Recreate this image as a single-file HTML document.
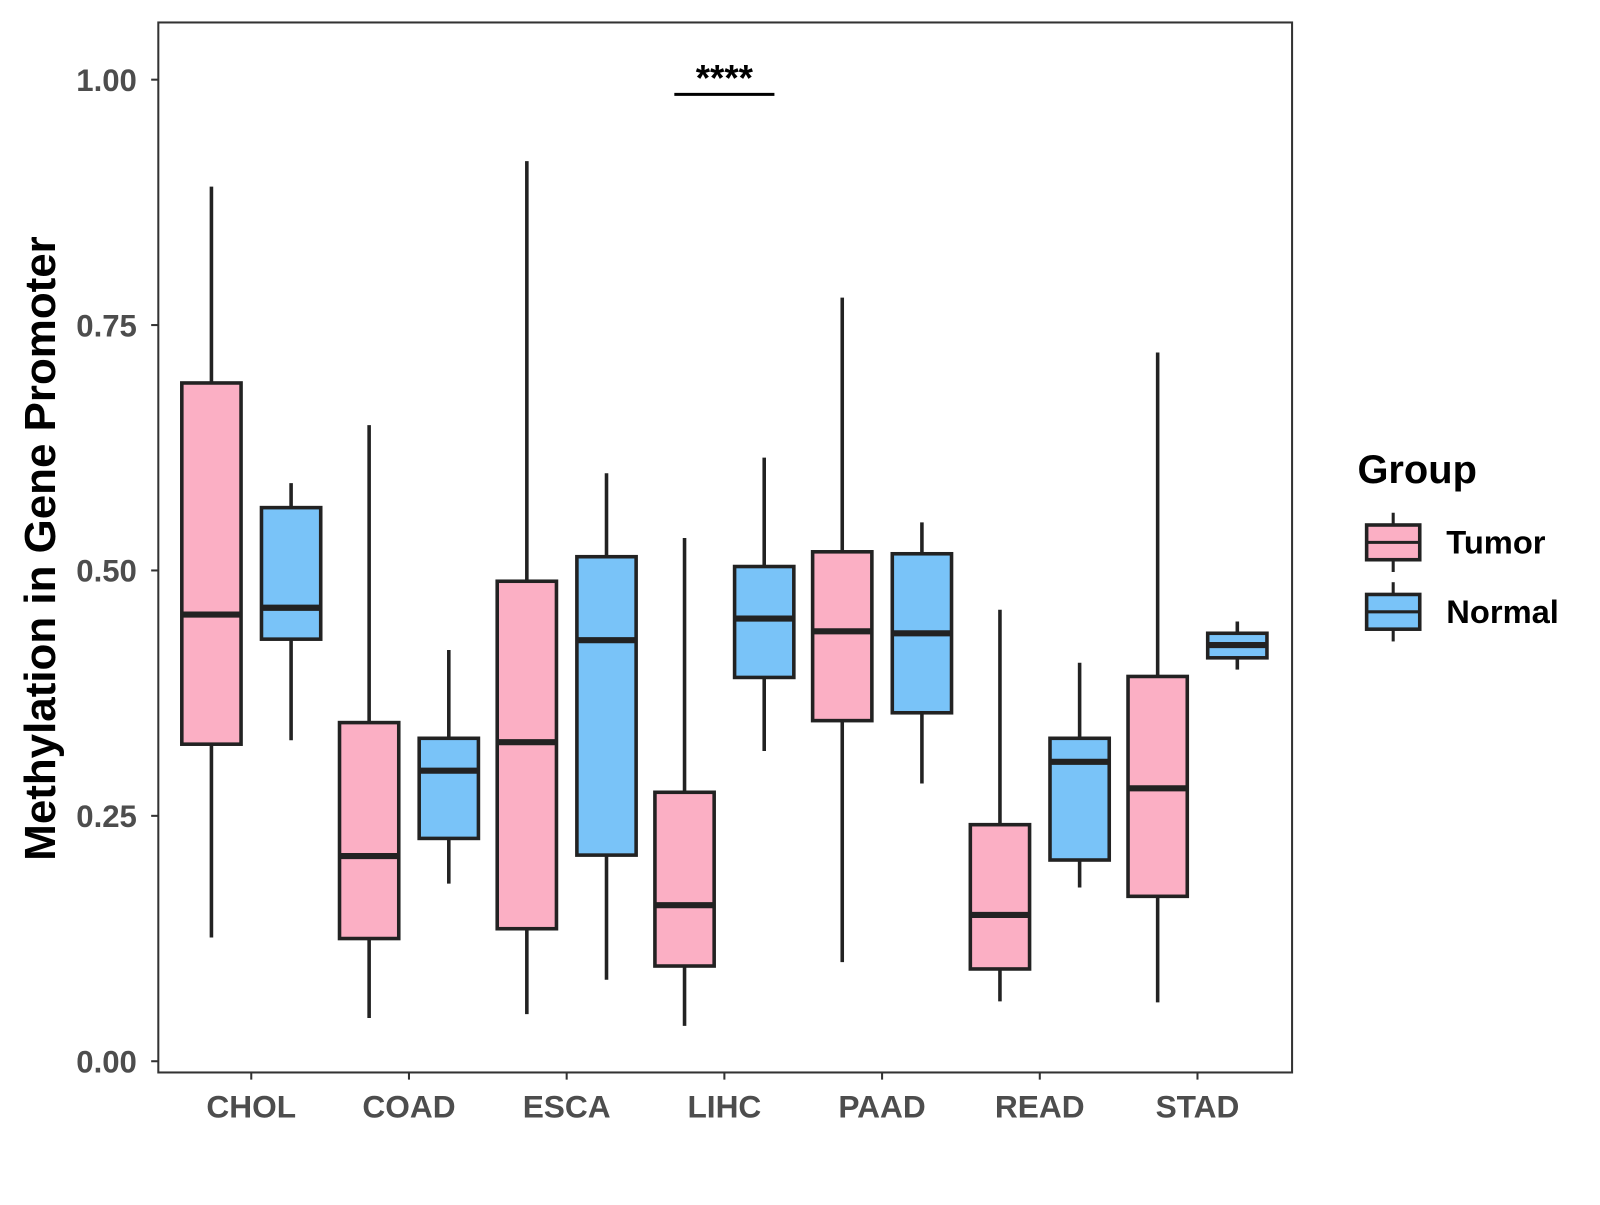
<!DOCTYPE html>
<html><head><meta charset="utf-8"><style>
body{margin:0;background:#fff;}
svg text{font-family:"Liberation Sans",Arial,sans-serif;font-weight:bold;}
</style></head><body>
<svg id="chart" width="1600" height="1200" xmlns="http://www.w3.org/2000/svg">
<rect x="0" y="0" width="1600" height="1200" fill="#fff"/>
<g id="plot" transform="scale(1.0214)"></g>
</svg>
<script>
const categories=["CHOL","COAD","ESCA","LIHC","PAAD","READ","STAD"];
const yTicks=[0,0.25,0.5,0.75,1.0];
const yTickLabels=["0.00","0.25","0.50","0.75","1.00"];
// [lowWhisker, Q1, median, Q3, highWhisker]
const tumorStats=[
 [0.126,0.323,0.455,0.691,0.891],
 [0.044,0.125,0.209,0.345,0.648],
 [0.048,0.135,0.325,0.489,0.917],
 [0.036,0.097,0.159,0.274,0.533],
 [0.101,0.347,0.438,0.519,0.778],
 [0.061,0.094,0.149,0.241,0.460],
 [0.060,0.168,0.278,0.392,0.722]];
const normalStats=[
 [0.327,0.430,0.462,0.564,0.589],
 [0.181,0.227,0.296,0.329,0.419],
 [0.083,0.210,0.429,0.514,0.599],
 [0.316,0.391,0.451,0.504,0.615],
 [0.283,0.355,0.436,0.517,0.549],
 [0.177,0.205,0.305,0.329,0.406],
 [0.399,0.411,0.424,0.436,0.448]];
const groups=["Tumor","Normal"];
const groupColors=["#FBAFC4","#79C3F8"];
const sigCategory="LIHC";
const sigLabel="****";
const sigValue=0.985;

const NS="http://www.w3.org/2000/svg";
const g=document.getElementById('plot');
const L=155,R=1265,T=22,B=1050;
const yS=v=>1039-v*961;
const xS=i=>246+i*154.4;
function el(t,a,txt){const e=document.createElementNS(NS,t);for(const k in a)e.setAttribute(k,a[k]);if(txt!==undefined)e.textContent=txt;g.appendChild(e);return e;}

yTicks.forEach((v,i)=>{
 const t=el('line',{x1:148,x2:L,y1:yS(v),y2:yS(v),stroke:'#333','stroke-width':2});
 
 
 const l=el('text',{x:134,y:yS(v)+11,'text-anchor':'end','font-size':30.5,fill:'#4d4d4d'},yTickLabels[i]);
 
 
});
categories.forEach((c,i)=>{
 const t=el('line',{x1:xS(i),x2:xS(i),y1:B,y2:B+7,stroke:'#333','stroke-width':2});
 
 
 const l=el('text',{x:xS(i),y:1094,'text-anchor':'middle','font-size':31,fill:'#4d4d4d'},c);
 
 
});
const bw=58;
[tumorStats,normalStats].forEach((stats,gi)=>{
 stats.forEach((s,i)=>{
  const cx=xS(i)+(gi===0?-39:39);
  const w=el('line',{x1:cx,x2:cx,y1:yS(s[0]),y2:yS(s[4]),stroke:'#222','stroke-width':3.5});
  
  
  const b=el('rect',{x:cx-bw/2,y:yS(s[3]),width:bw,height:yS(s[1])-yS(s[3]),fill:groupColors[gi],stroke:'#222','stroke-width':3.5});
  
  
  const m=el('line',{x1:cx-bw/2,x2:cx+bw/2,y1:yS(s[2]),y2:yS(s[2]),stroke:'#222','stroke-width':6});
  
  
 });
});
const si=categories.indexOf(sigCategory);
const sl=el('line',{x1:xS(si)-49,x2:xS(si)+49,y1:yS(sigValue),y2:yS(sigValue),stroke:'#000','stroke-width':3});


const st=el('text',{x:xS(si),y:yS(sigValue)-4,'text-anchor':'middle','font-size':36,fill:'#000'},sigLabel);


const fr=el('rect',{x:L,y:T,width:R-L,height:B-T,fill:'none',stroke:'#333','stroke-width':2});


const yt=el('text',{x:0,y:0,'text-anchor':'middle','font-size':43,fill:'#000',transform:'translate(54,537) rotate(-90)'},'Methylation in Gene Promoter');


const lt=el('text',{x:1329,y:473,'font-size':39,fill:'#000'},'Group');


groups.forEach((gn,i)=>{
 const cy=531+i*68;
 const w=el('line',{x1:1364,x2:1364,y1:cy-29,y2:cy+29,stroke:'#222','stroke-width':3});
 
 
 const r=el('rect',{x:1338,y:cy-17,width:52,height:34,fill:groupColors[i],stroke:'#222','stroke-width':3.5});
 
 
 const m=el('line',{x1:1338,x2:1390,y1:cy,y2:cy,stroke:'#222','stroke-width':3});
 
 
 const t=el('text',{x:1416,y:cy+11,'font-size':32,fill:'#000'},gn);
 
 
});
</script>
</body></html>
